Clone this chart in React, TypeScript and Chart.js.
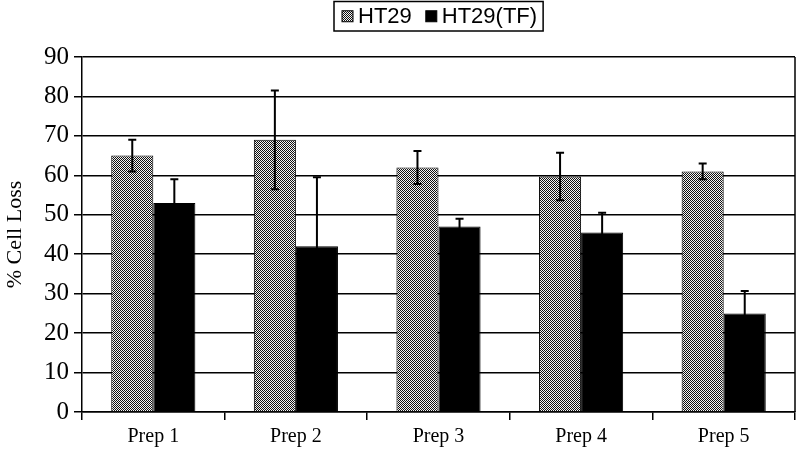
import React, { useEffect, useRef } from "react";
import { Chart, registerables } from "chart.js";

Chart.register(...registerables);

const categories = ["Prep 1", "Prep 2", "Prep 3", "Prep 4", "Prep 5"];
const seriesNames = ["HT29", "HT29(TF)"];
const ht29Values = [65, 69, 62, 59.7, 61];
const ht29Errors = [4, 12.5, 4.2, 6, 2];
const tfValues = [53, 42, 47, 45.5, 25];
const tfErrors = [6, 17.5, 2, 5, 5.7];
const yMin = 0;
const yMax = 90;
const yStep = 10;

function makePattern(): CanvasPattern | string {
  const c = document.createElement("canvas");
  c.width = 2;
  c.height = 2;
  const ctx = c.getContext("2d");
  if (!ctx) return "#888";
  ctx.fillStyle = "#f4f4f4";
  ctx.fillRect(0, 0, 2, 2);
  ctx.fillStyle = "#111";
  ctx.fillRect(0, 0, 1, 1);
  ctx.fillRect(1, 1, 1, 1);
  const p = ctx.createPattern(c, "repeat");
  return p || "#888";
}

export default function App() {
  const ref = useRef<HTMLCanvasElement>(null);
  useEffect(() => {
    document.body.style.margin = "0";
    const canvas = ref.current;
    if (!canvas) return;
    const pattern = makePattern();
    const errors = [ht29Errors, tfErrors];

    const errorBars = {
      id: "errorBars",
      afterDatasetsDraw(chart: any) {
        const ctx = chart.ctx;
        const ys = chart.scales.y;
        ctx.save();
        ctx.strokeStyle = "#000";
        ctx.lineWidth = 2;
        chart.data.datasets.forEach((ds: any, i: number) => {
          const meta = chart.getDatasetMeta(i);
          meta.data.forEach((bar: any, j: number) => {
            const v = ds.data[j];
            const e = errors[i][j];
            const x = bar.x;
            const yt = ys.getPixelForValue(v + e);
            const yb = ys.getPixelForValue(v - e);
            ctx.beginPath();
            ctx.moveTo(x, yt);
            ctx.lineTo(x, yb);
            ctx.moveTo(x - 4, yt);
            ctx.lineTo(x + 4, yt);
            ctx.moveTo(x - 4, yb);
            ctx.lineTo(x + 4, yb);
            ctx.stroke();
          });
        });
        ctx.restore();
      },
    };

    const frameAndLegend = {
      id: "frameAndLegend",
      afterDraw(chart: any) {
        const ctx = chart.ctx;
        const a = chart.chartArea;
        ctx.save();
        ctx.strokeStyle = "#000";
        ctx.lineWidth = 1.5;
        ctx.beginPath();
        ctx.moveTo(a.right, a.top);
        ctx.lineTo(a.right, a.bottom);
        ctx.stroke();

        // legend
        ctx.font = "22px 'Liberation Sans', Arial, sans-serif";
        ctx.textBaseline = "middle";
        const box = 11;
        const gapBoxText = 5;
        const gapItems = 14;
        const padL = 8;
        const padR = 6;
        const fills = [pattern, "#000"];
        const widths = chart.data.datasets.map((d: any) => ctx.measureText(d.label).width);
        let total = padL + padR;
        widths.forEach((w: number, i: number) => {
          total += box + gapBoxText + w + (i < widths.length - 1 ? gapItems : 0);
        });
        const cx = (a.left + a.right) / 2;
        const left = Math.round(cx - total / 2);
        const top = 1.5;
        const h = 29.5;
        ctx.lineWidth = 1.5;
        ctx.strokeRect(left, top, total, h);
        let x = left + padL;
        const my = top + h / 2;
        chart.data.datasets.forEach((d: any, i: number) => {
          ctx.fillStyle = fills[i];
          ctx.fillRect(x, my - box / 2, box, box);
          ctx.lineWidth = 1;
          ctx.strokeRect(x, my - box / 2, box, box);
          x += box + gapBoxText;
          ctx.fillStyle = "#000";
          ctx.fillText(d.label, x, my + 1);
          x += widths[i] + gapItems;
        });
        ctx.restore();
      },
    };

    const chart = new Chart(canvas, {
      type: "bar",
      data: {
        labels: categories,
        datasets: [
          {
            label: seriesNames[0],
            data: ht29Values,
            backgroundColor: pattern as any,
            borderColor: "#000",
            borderWidth: 1,
            categoryPercentage: 0.59,
            barPercentage: 1,
          },
          {
            label: seriesNames[1],
            data: tfValues,
            backgroundColor: "#000",
            borderColor: "#000",
            borderWidth: 1,
            categoryPercentage: 0.59,
            barPercentage: 1,
          },
        ],
      },
      options: {
        responsive: false,
        animation: false,
        layout: { padding: { top: 57, right: 1, left: 0, bottom: 0 } },
        plugins: {
          legend: { display: false },
          tooltip: { enabled: false },
        },
        scales: {
          x: {
            afterFit(scale: any) {
              scale.height = 39;
            },
            grid: {
              offset: true,
              drawOnChartArea: false,
              drawTicks: true,
              tickLength: 8,
              color: "#000",
              lineWidth: 1.5,
            },
            border: { display: true, color: "#000", width: 1.5 },
            ticks: {
              color: "#000",
              padding: 5,
              maxRotation: 0,
              font: { family: "'Liberation Serif', 'Times New Roman', serif", size: 20 },
            },
          },
          y: {
            min: yMin,
            max: yMax,
            afterFit(scale: any) {
              scale.width = 82;
            },
            ticks: {
              stepSize: yStep,
              color: "#000",
              padding: 5,
              font: { family: "'Liberation Serif', 'Times New Roman', serif", size: 25 },
            },
            grid: {
              color: "#000",
              lineWidth: 1.5,
              tickLength: 8,
            },
            border: { display: true, color: "#000", width: 1.5 },
            title: {
              display: true,
              text: "% Cell Loss",
              color: "#000",
              padding: { top: 2, bottom: 0 },
              font: { family: "'Liberation Serif', 'Times New Roman', serif", size: 22 },
            },
          },
        },
      },
      plugins: [errorBars, frameAndLegend],
    });
    return () => chart.destroy();
  }, []);
  return <canvas ref={ref} width={796} height={451} style={{ display: "block" }} />;
}
